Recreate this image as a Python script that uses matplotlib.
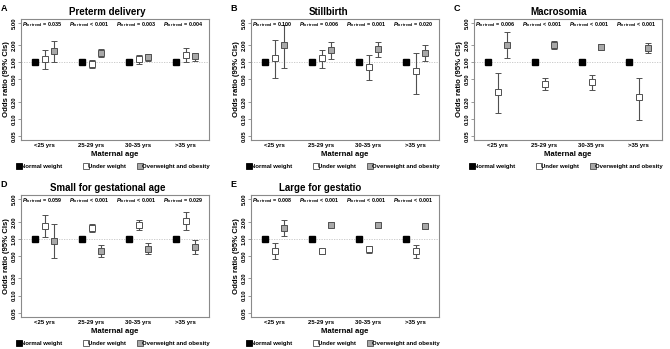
import numpy as np
import matplotlib.pyplot as plt

plt.rcParams["font.family"] = ["Liberation Sans", "DejaVu Sans"]
plt.rcParams["mathtext.fontset"] = "custom"
plt.rcParams["mathtext.rm"] = "Liberation Sans:bold"
plt.rcParams["mathtext.it"] = "Liberation Sans:italic:bold"
plt.rcParams["mathtext.bf"] = "Liberation Sans:bold"

# === Data ===
age_groups = ["<25 yrs", "25-29 yrs", "30-35 yrs", ">35 yrs"]
legend_labels = ["Normal weight", "Under weight", "Overweight and obesity"]

# (OR, lower, upper) per age group; normal weight is the reference (OR = 1)
preterm_under = [(1.13, 0.77, 1.63), (0.93, 0.79, 1.12), (1.13, 0.95, 1.37), (1.37, 1.00, 1.79)]
preterm_over = [(1.59, 1.00, 2.42), (1.46, 1.24, 1.72), (1.26, 1.08, 1.44), (1.28, 1.08, 1.48)]
preterm_p = ["= 0.035", "< 0.001", "= 0.003", "= 0.004"]

still_under = [(1.21, 0.53, 2.48), (1.18, 0.80, 1.65), (0.83, 0.48, 1.37), (0.70, 0.28, 1.46)]
still_over = [(2.02, 0.80, 4.70), (1.65, 1.13, 2.29), (1.70, 1.23, 2.32), (1.46, 1.06, 2.02)]
still_p = ["= 0.100", "= 0.006", "= 0.001", "= 0.020"]

macro_under = [(0.30, 0.125, 0.64), (0.42, 0.32, 0.54), (0.45, 0.33, 0.61), (0.247, 0.095, 0.53)]
macro_over = [(2.08, 1.21, 3.49), (2.02, 1.74, 2.38), (1.89, 1.68, 2.14), (1.79, 1.48, 2.17)]
macro_p = ["= 0.006", "< 0.001", "< 0.001", "< 0.001"]

sga_under = [(1.68, 1.09, 2.59), (1.57, 1.33, 1.82), (1.75, 1.42, 2.11), (2.08, 1.42, 2.96)]
sga_over = [(0.93, 0.45, 1.82), (0.61, 0.47, 0.77), (0.67, 0.54, 0.83), (0.73, 0.53, 0.97)]
sga_p = ["= 0.059", "< 0.001", "< 0.001", "= 0.029"]

lga_under = [(0.62, 0.44, 0.83), (0.61, 0.54, 0.67), (0.67, 0.57, 0.76), (0.60, 0.46, 0.77)]
lga_over = [(1.57, 1.13, 2.14), (1.77, 1.61, 1.94), (1.75, 1.57, 1.92), (1.65, 1.50, 1.82)]
lga_p = ["= 0.008", "< 0.001", "< 0.001", "< 0.001"]

panels = [
    ("A", "Preterm delivery", preterm_under, preterm_over, preterm_p),
    ("B", "Stillbirth", still_under, still_over, still_p),
    ("C", "Macrosomia", macro_under, macro_over, macro_p),
    ("D", "Small for gestational age", sga_under, sga_over, sga_p),
    ("E", "Large for gestatio", lga_under, lga_over, lga_p),
]

yticks = [0.05, 0.10, 0.20, 0.50, 1.00, 2.00, 5.00]

# === Layout ===
W, H = 670, 349
fig = plt.figure(figsize=(W / 100, H / 100), dpi=100)

# axes boxes in pixels: left, top, right, bottom
boxes = [(21, 19, 209, 140), (251, 19, 439, 140), (474, 19, 662, 140),
         (21, 195, 209, 317), (251, 195, 439, 317)]
title_x = [0.46, 0.41, 0.45, 0.46, 0.37]

edge = "#505050"
frame = "#8a8a8a"
grey_fill = "#a8a8a8"
fills = ["black", "white", grey_fill]
edges = ["black", edge, edge]
legend_x = [-0.01, 0.346, 0.633]

for (letter, title, under, over, pvals), (l, t, r, b), tx in zip(panels, boxes, title_x):
    ax = fig.add_axes([l / W, 1 - b / H, (r - l) / W, (b - t) / H])
    x = np.arange(len(age_groups))
    ax.axhline(1.0, color="#c4c4c4", lw=0.6, ls=(0, (1.5, 1.5)), zorder=1)

    # reference category
    ax.plot(x - 0.2, np.ones(len(x)), ls="none", marker="s", ms=3.8,
            mfc="black", mec="black", zorder=3)

    for vals, off, fc in [(under, 0.0, "white"), (over, 0.2, grey_fill)]:
        v = np.array(vals)
        err = np.vstack([v[:, 0] - v[:, 1], v[:, 2] - v[:, 0]])
        ax.errorbar(x + off, v[:, 0], yerr=err, fmt="s", ms=4.3, mfc=fc, mec=edge,
                    mew=0.7, ecolor=edge, elinewidth=0.8, capsize=2, capthick=0.8,
                    zorder=3)

    for xi, p in zip(x, pvals):
        ax.text(xi - 0.04, 4.75, r"$P_{\mathrm{for\ trend}}$ " + p,
                ha="center", va="center", fontsize=3.9, fontweight="bold")

    ax.set_yscale("log")
    ax.set_ylim(0.042, 5.9)
    ax.set_xlim(-0.5, 3.5)
    ax.set_yticks(yticks)
    ax.set_yticklabels([f"{v:.2f}" for v in yticks], rotation=90, va="center",
                       fontsize=4.2, fontweight="bold")
    ax.yaxis.set_minor_locator(plt.NullLocator())
    ax.set_xticks(x)
    ax.set_xticklabels(age_groups, fontsize=4.3, fontweight="bold")
    ax.tick_params(axis="x", length=0, pad=2.5)
    ax.tick_params(axis="y", length=2, width=0.6, color=frame, pad=1)
    for s in ax.spines.values():
        s.set_color(frame)
        s.set_linewidth(0.8)

    ax.set_xlabel("Maternal age", fontsize=5.6, fontweight="bold", labelpad=2)
    ax.set_ylabel("Odds ratio (95% CIs)", fontsize=5.6, fontweight="bold", labelpad=1.5)
    ax.text(tx, 1.015, title, transform=ax.transAxes, fontsize=7, fontweight="bold",
            ha="center", va="bottom")
    ax.text(-0.11, 1.09, letter, transform=ax.transAxes, fontsize=6.5, fontweight="bold",
            ha="left", va="center")

    # legend row under each panel
    for lx, lab, fc, ec in zip(legend_x, legend_labels, fills, edges):
        ax.plot([lx], [-0.215], transform=ax.transAxes, clip_on=False, ls="none",
                marker="s", ms=4, mfc=fc, mec=ec, mew=0.6)
        ax.text(lx + 0.012, -0.215, lab, transform=ax.transAxes, fontsize=4.3,
                fontweight="bold", ha="left", va="center")

fig.savefig("out.png", dpi=100)
